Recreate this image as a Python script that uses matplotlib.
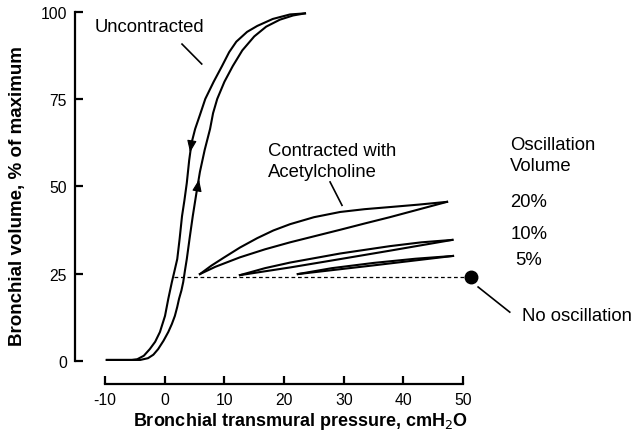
import numpy as np
import matplotlib
matplotlib.use('Agg')
import matplotlib.pyplot as plt

plt.rcParams['font.family'] = ['Liberation Sans', 'DejaVu Sans']
plt.rcParams['axes.unicode_minus'] = False

# ---- data ----
# uncontracted loop: deflation (left branch) and inflation (right branch)
defl_x = [23.5, 21.0, 18.1, 15.5, 13.8, 12.0, 10.8, 9.6, 8.2, 6.8, 5.9, 5.1, 4.5, 4.1,
          3.7, 3.3, 2.9, 2.5, 2.1, 1.6, 1.2, 0.6, 0.05, -0.8, -1.6, -2.5, -3.5, -4.6,
          -5.5, -9.7]
defl_y = [99.6, 99.3, 98.0, 96.0, 94.3, 91.5, 88.5, 84.5, 80.0, 75.1, 70.5, 66.5, 62.5,
          57.5, 51.0, 46.0, 41.5, 35.0, 29.2, 25.5, 22.6, 17.8, 12.9, 8.3, 5.5, 3.4,
          1.5, 0.5, 0.3, 0.3]
infl_x = [-9.7, -4.1, -2.8, -1.9, -1.1, -0.2, 0.6, 1.2, 1.7, 2.1, 2.4, 2.8, 3.1, 3.4,
          3.7, 4.2, 4.7, 5.3, 5.9, 6.7, 7.6, 8.1, 8.8, 10.0, 11.4, 13.0, 15.0, 17.0,
          19.3, 21.5, 23.5]
infl_y = [0.3, 0.3, 0.8, 1.8, 3.4, 5.8, 8.3, 10.6, 12.9, 15.5, 17.8, 20.2, 22.6, 26.0,
          29.2, 35.5, 41.5, 48.0, 54.2, 60.5, 66.5, 71.0, 75.1, 80.0, 84.5, 89.0, 93.0,
          95.8, 97.8, 99.0, 99.6]

# contracted with acetylcholine, loops for 20 %, 10 %, 5 % oscillation volume
c20_up_x = [5.9, 7.8, 9.8, 12.6, 15.5, 18.2, 21.0, 25.0, 29.4, 33.5, 37.7, 42.5, 47.3]
c20_up_y = [24.9, 27.3, 29.5, 32.5, 35.2, 37.4, 39.2, 41.2, 42.7, 43.5, 44.1, 44.8, 45.6]
c20_lo_x = [5.9, 8.5, 12.6, 16.8, 21.0, 25.2, 29.4, 33.5, 37.7, 42.5, 47.3]
c20_lo_y = [24.9, 27.0, 29.7, 32.0, 34.0, 35.8, 37.6, 39.4, 41.2, 43.4, 45.6]

c10_up_x = [12.6, 16.8, 21.0, 29.4, 37.7, 43.0, 48.2]
c10_up_y = [24.6, 26.6, 28.2, 30.8, 32.9, 34.0, 34.7]
c10_lo_x = [12.6, 21.0, 29.4, 37.7, 48.2]
c10_lo_y = [24.6, 26.8, 29.2, 31.6, 34.7]

c5_up_x = [22.3, 28.0, 35.0, 42.0, 48.3]
c5_up_y = [24.9, 26.6, 28.1, 29.3, 30.1]
c5_lo_x = [22.3, 35.0, 48.3]
c5_lo_y = [24.9, 27.4, 30.1]

# no oscillation point and reference line
no_osc_x = 51.3
no_osc_y = 24.0
dash_x0 = 1.6

# direction arrows on the uncontracted loop (tail, tip)
arrow_down = [(4.45, 62.0), (4.25, 59.8)]
arrow_up = [(5.5, 49.6), (5.75, 52.0)]

xticks = [-10, 0, 10, 20, 30, 40, 50]
yticks = [0, 25, 50, 75, 100]

# ---- figure ----
fig = plt.figure(figsize=(6.31, 4.35), dpi=100)
ax = fig.add_axes([0, 0, 1, 1])
ax.set_xlim(-27.59, 78.11)
ax.set_ylim(-20.92, 103.72)

lw = 1.5
ax.plot(defl_x, defl_y, color='black', lw=lw, solid_joinstyle='round')
ax.plot(infl_x, infl_y, color='black', lw=lw, solid_joinstyle='round')
for xs, ys in [(c20_up_x, c20_up_y), (c20_lo_x, c20_lo_y),
               (c10_up_x, c10_up_y), (c10_lo_x, c10_lo_y),
               (c5_up_x, c5_up_y), (c5_lo_x, c5_lo_y)]:
    ax.plot(xs, ys, color='black', lw=lw, solid_joinstyle='round')

ax.plot([dash_x0, no_osc_x], [no_osc_y, no_osc_y], color='black', lw=0.9,
        dashes=(3, 2.2))
ax.plot(no_osc_x, no_osc_y, 'o', color='black', markersize=9)

for tail, tip in [arrow_down, arrow_up]:
    ax.annotate('', xy=tip, xytext=tail,
                arrowprops=dict(arrowstyle='-|>,head_length=0.8,head_width=0.32',
                                color='black', lw=0.8, shrinkA=0, shrinkB=0,
                                mutation_scale=9))

# labels with pointer lines
fs = 13.3
ax.text(-11.7, 95.7, 'Uncontracted', fontsize=fs, ha='left', va='center')
ax.plot([2.9, 6.2], [90.8, 85.1], color='black', lw=1.2)

ax.text(17.3, 57.4, 'Contracted with\nAcetylcholine', fontsize=fs, ha='left',
        va='center', linespacing=1.3)
ax.plot([27.7, 29.7], [51.3, 44.6], color='black', lw=1.2)

ax.text(57.9, 59.0, 'Oscillation\nVolume', fontsize=fs, ha='left', va='center',
        linespacing=1.3)
ax.text(57.9, 45.8, '20%', fontsize=fs, ha='left', va='center')
ax.text(57.9, 36.4, '10%', fontsize=fs, ha='left', va='center')
ax.text(58.7, 29.2, '5%', fontsize=fs, ha='left', va='center')

ax.text(59.8, 12.9, 'No oscillation', fontsize=fs, ha='left', va='center')
ax.plot([52.5, 57.8], [21.2, 14.0], color='black', lw=1.2)

# axes styling
for s in ['top', 'right']:
    ax.spines[s].set_visible(False)
ax.spines['left'].set_position(('data', -15.0))
ax.spines['bottom'].set_position(('data', -6.6))
ax.spines['left'].set_bounds(0, 100)
ax.spines['bottom'].set_bounds(-10, 50)
ax.spines['left'].set_linewidth(1.6)
ax.spines['bottom'].set_linewidth(1.6)

ax.set_xticks(xticks)
ax.set_yticks(yticks)
ax.tick_params(direction='in', length=6, width=1.6, labelsize=11.3, pad=6)

ax.set_xlabel('Bronchial transmural pressure, cmH$_2$O', fontsize=13,
              fontweight='bold', va='center')
ax.xaxis.set_label_coords(0.476, 1 - 422 / 435)
ax.set_ylabel('Bronchial volume, % of maximum', fontsize=13.5,
              fontweight='bold', va='center')
ax.yaxis.set_label_coords(18 / 631, 1 - 196 / 435)

fig.savefig('out.png', dpi=100)
